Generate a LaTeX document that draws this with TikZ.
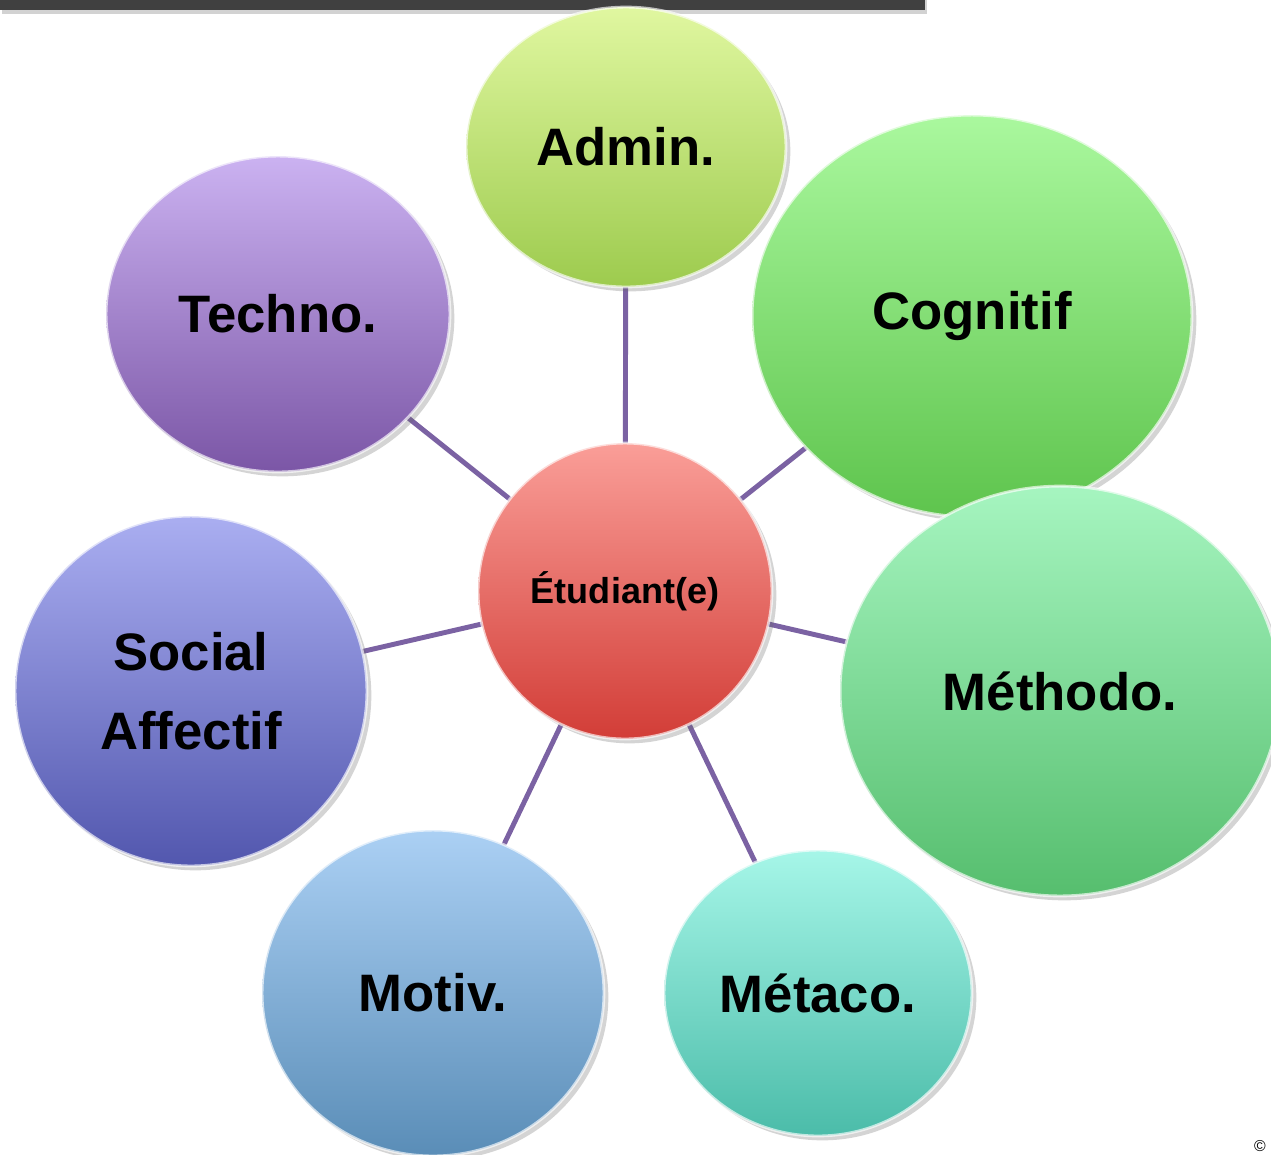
\documentclass[tikz,border=0pt]{standalone}
\usepackage{fontspec}
\setmainfont{Liberation Sans}
\usetikzlibrary{shapes.geometric,shadows}
\definecolor{linkc}{HTML}{7B62A3}
\definecolor{barc}{HTML}{404040}
\tikzset{
  bub/.style n args={4}{ellipse, inner sep=0pt, align=center,
    minimum width=#1*0.04cm, minimum height=#2*0.04cm,
    top color=#3, bottom color=#4, draw=white, draw opacity=0.65, line width=1.6pt,
    drop shadow={shadow xshift=2.5pt, shadow yshift=-2.5pt, opacity=0.28, fill=black!60},
    font=\bfseries\fontsize{30}{45}\selectfont},
  link/.style={draw=linkc, line width=2.8pt}
}
\begin{document}
\begin{tikzpicture}[x=0.02cm,y=-0.02cm]
\useasboundingbox (0,0) rectangle (1271,1154);
\clip (0,0) rectangle (1271,1154);
\fill[white] (0,0) rectangle (1271,1154);
\fill[barc, drop shadow={shadow xshift=1pt, shadow yshift=-2.5pt, opacity=0.35}] (0,-5) rectangle (925,10);
% coordinates of centres
\coordinate (cetu) at (625,591);
\coordinate (cadm) at (626,147);
\coordinate (ccog) at (972,316);
\coordinate (ctec) at (278,314);
\coordinate (csoc) at (191,691);
\coordinate (cmet) at (1060,691);
\coordinate (cmot) at (433,993);
\coordinate (cmta) at (818,993);
% connectors
\draw[link] (cetu) -- (cadm);
\draw[link] (cetu) -- (ccog);
\draw[link] (cetu) -- (ctec);
\draw[link] (cetu) -- (csoc);
\draw[link] (cetu) -- (cmet);
\draw[link] (cetu) -- (cmot);
\draw[link] (cetu) -- (cmta);
% bubbles
\node[bub={160}{140}{{rgb,255:red,224;green,247;blue,160}}{{rgb,255:red,157;green,203;blue,78}}] (admin) at (cadm) {Admin.};
\node[bub={172}{158}{{rgb,255:red,203;green,178;blue,241}}{{rgb,255:red,123;green,86;blue,166}}] (techno) at (ctec) {Techno.};
\node[bub={176}{175}{{rgb,255:red,170;green,174;blue,241}}{{rgb,255:red,82;green,87;blue,174}}] (social) at (csoc) {Social\\Affectif};
\node[bub={171}{163}{{rgb,255:red,171;green,208;blue,244}}{{rgb,255:red,90;green,141;blue,183}}] (motiv) at (cmot) {Motiv.};
\node[bub={154}{143}{{rgb,255:red,166;green,246;blue,232}}{{rgb,255:red,75;green,188;blue,169}}] (metaco) at (cmta) {Métaco.};
\node[bub={220}{201}{{rgb,255:red,170;green,248;blue,158}}{{rgb,255:red,94;green,196;blue,77}}] (cognitif) at (ccog) {Cognitif};
\node[bub={220}{205}{{rgb,255:red,166;green,245;blue,192}}{{rgb,255:red,86;green,190;blue,110}}] (methodo) at (cmet) {Méthodo.};
\node[bub={147}{148}{{rgb,255:red,250;green,158;blue,152}}{{rgb,255:red,210;green,61;blue,55}}, font=\bfseries\fontsize{20.5}{24}\selectfont] (etu) at (cetu) {Étudiant(e)};
\node[font=\fontsize{9}{10}\selectfont, inner sep=0pt] (copy) at (1260,1146) {©};
\end{tikzpicture}
\end{document}
